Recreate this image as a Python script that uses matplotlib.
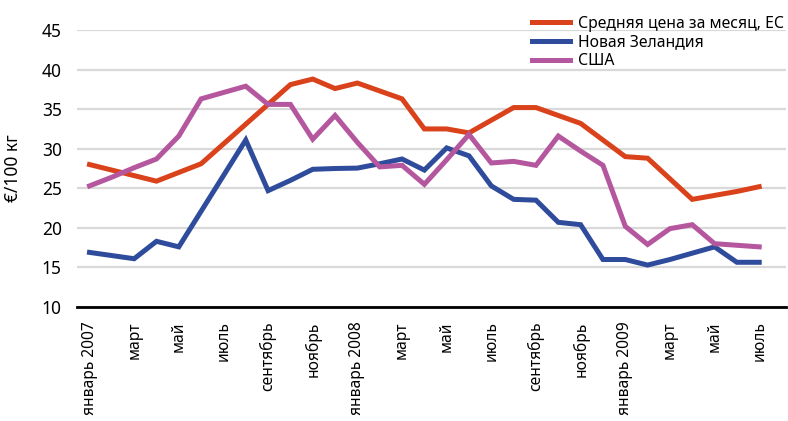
import matplotlib
matplotlib.use("Agg")
import matplotlib.pyplot as plt
import numpy as np

plt.rcParams['font.family'] = ['Noto Sans', 'DejaVu Sans']

months = ["январь 2007", "февраль", "март", "апрель", "май", "июнь", "июль", "август",
          "сентябрь", "октябрь", "ноябрь", "декабрь",
          "январь 2008", "февраль", "март", "апрель", "май", "июнь", "июль", "август",
          "сентябрь", "октябрь", "ноябрь", "декабрь",
          "январь 2009", "февраль", "март", "апрель", "май", "июнь", "июль"]

eu = [28.0, 27.3, 26.6, 25.9, 27.0, 28.1, 30.6, 33.1, 35.6, 38.1, 38.8, 37.6,
      38.3, 37.3, 36.3, 32.5, 32.5, 32.0, 33.6, 35.2, 35.2, 34.2, 33.2, 31.1,
      29.0, 28.8, 26.2, 23.6, 24.1, 24.6, 25.2]
nz = [16.9, 16.5, 16.1, 18.3, 17.6, 22.1, 26.6, 31.1, 24.7, 26.0, 27.4, 27.5,
      27.55, 28.1, 28.7, 27.3, 30.1, 29.1, 25.3, 23.6, 23.5, 20.7, 20.4, 16.0,
      16.0, 15.3, 16.0, 16.8, 17.6, 15.65, 15.65]
us = [25.3, 26.4, 27.6, 28.7, 31.6, 36.3, 37.1, 37.9, 35.6, 35.6, 31.2, 34.2,
      30.8, 27.7, 27.9, 25.5, 28.6, 31.8, 28.2, 28.4, 27.9, 31.6, 29.7, 27.9,
      20.2, 17.9, 19.9, 20.4, 18.0, 17.8, 17.6]

series_names = ["Средняя цена за месяц, ЕС", "Новая Зеландия", "США"]
colors = ["#D9421A", "#2F4B9B", "#B5579E"]
yticks = [10, 15, 20, 25, 30, 35, 40, 45]

fig = plt.figure(figsize=(7.88, 4.21), dpi=100)
ax = fig.add_axes([77/788, 1-307/421, (786-77)/788, (307-30)/421])

x = np.arange(len(months))
for vals, name, c in zip([eu, nz, us], series_names, colors):
    ax.plot(x, vals, color=c, lw=3.6, label=name, solid_joinstyle='miter', zorder=3)

ax.set_ylim(10, 45)
ax.set_xlim(-0.56, 31.2)
ax.set_yticks(yticks)
ax.set_yticklabels([str(t) for t in yticks], fontsize=12.5)
ax.yaxis.grid(True, color="#d9d9d9", lw=1.6)
ax.set_axisbelow(True)
ax.set_xticks(x[::2])
ax.set_xticklabels(months[::2], rotation=90, fontsize=11.2, va='top', ha='center')
ax.tick_params(axis='both', length=0)
ax.tick_params(axis='y', pad=11)
ax.tick_params(axis='x', pad=10.5)
for s in ['top', 'right', 'left']:
    ax.spines[s].set_visible(False)
ax.spines['bottom'].set_linewidth(2)
ax.spines['bottom'].set_color('black')
ax.set_ylabel("€/100 кг", fontsize=12.5, labelpad=14)

leg = ax.legend(loc='upper right', bbox_to_anchor=(1.006, 1.075), frameon=False,
                fontsize=11.3, handlelength=2.4, handletextpad=0.5, labelspacing=0.18,
                borderaxespad=0)

fig.savefig("out.png", dpi=100)
